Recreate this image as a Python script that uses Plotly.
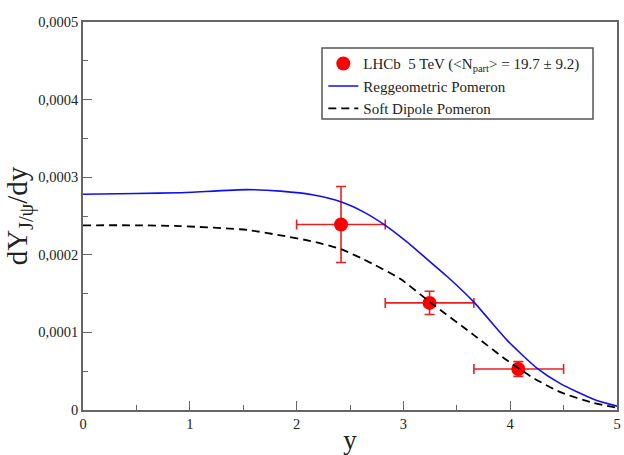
import plotly.graph_objects as go

# Data points (LHCb 5 TeV)
pt_x = [2.416, 3.245, 4.076]
pt_y = [0.000239, 0.000138, 0.0000528]
pt_yerr = [0.000049, 0.000015, 0.0000095]
pt_xlo = [2.0, 2.83, 3.66]
pt_xhi = [2.83, 3.66, 4.5]

# Reggeometric Pomeron curve
rg_x = [0, 0.5, 0.91, 1.54, 1.85, 2.16, 2.42, 2.63, 2.83, 3.03, 3.25, 3.41, 3.66, 3.97, 4.25, 4.47, 4.78, 5.0]
rg_y = [2.78e-4, 2.79e-4, 2.80e-4, 2.84e-4, 2.82e-4, 2.77e-4, 2.68e-4, 2.55e-4, 2.38e-4, 2.17e-4,
        1.91e-4, 1.72e-4, 1.39e-4, 0.90e-4, 0.54e-4, 0.34e-4, 0.14e-4, 0.05e-4]

# Soft Dipole Pomeron curve
sd_x = [0, 0.5, 0.91, 1.54, 1.85, 2.16, 2.42, 2.63, 2.97, 3.25, 3.66, 3.97, 4.22, 4.47, 4.78, 5.0]
sd_y = [2.38e-4, 2.38e-4, 2.37e-4, 2.32e-4, 2.25e-4, 2.17e-4, 2.07e-4, 1.94e-4, 1.69e-4, 1.39e-4,
        0.965e-4, 0.64e-4, 0.41e-4, 0.23e-4, 0.09e-4, 0.03e-4]

y_ticks = [0, 0.0001, 0.0002, 0.0003, 0.0004, 0.0005]
y_labels = ["0", "0,0001", "0,0002", "0,0003", "0,0004", "0,0005"]
x_ticks = [0, 1, 2, 3, 4, 5]
x_labels = ["0", "1", "2", "3", "4", "5"]

FONT = "Liberation Serif, Times New Roman, serif"

fig = go.Figure()
fig.add_trace(go.Scatter(
    x=pt_x, y=pt_y, mode="markers",
    name="LHCb  5 TeV (&lt;N<sub>part</sub>&gt; = 19.7 ± 9.2)",
    marker=dict(color="#ff0000", size=14),
    error_y=dict(type="data", array=pt_yerr, color="#e82020", thickness=1.6, width=5),
    error_x=dict(type="data", symmetric=False,
                 array=[h - c for h, c in zip(pt_xhi, pt_x)],
                 arrayminus=[c - l for l, c in zip(pt_xlo, pt_x)],
                 color="#e82020", thickness=1.6, width=5),
))
fig.add_trace(go.Scatter(
    x=rg_x, y=rg_y, mode="lines", name="Reggeometric Pomeron",
    line=dict(color="#1010ee", width=1.6, shape="spline", smoothing=0.6),
))
fig.add_trace(go.Scatter(
    x=sd_x, y=sd_y, mode="lines", name="Soft Dipole Pomeron",
    line=dict(color="#000000", width=1.8, dash="8px,5px", shape="spline", smoothing=0.6),
))

# legend frame (paper coords)
fig.add_shape(type="rect", xref="paper", yref="paper",
              x0=(322 - 83) / 534, x1=(593 - 83) / 534,
              y0=(410 - 119) / 388, y1=(410 - 48) / 388,
              line=dict(color="#555", width=1.5), layer="above")

fig.update_layout(
    width=624, height=455,
    margin=dict(l=83, r=7, t=22, b=45),
    paper_bgcolor="white", plot_bgcolor="white",
    font=dict(family=FONT, size=14.5, color="#222"),
    showlegend=True,
    legend=dict(x=0.45, y=0.935, xanchor="left", yanchor="top",
                borderwidth=0, bgcolor="rgba(255,255,255,0)",
                font=dict(family=FONT, size=15, color="#222"),
                tracegroupgap=0, itemwidth=30),
    xaxis=dict(range=[0, 5], tickvals=x_ticks, ticktext=x_labels, automargin=False,
               ticks="inside", ticklen=9, tickcolor="#666", tickwidth=1.2,
               minor=dict(ticks="inside", ticklen=5, dtick=0.5, tickcolor="#666", tickwidth=1.2),
               showline=True, linecolor="#666", linewidth=1.8, mirror=True,
               showgrid=False, zeroline=False,
               title=dict(text="y", font=dict(family=FONT, size=27, color="#222"), standoff=0),
               tickfont=dict(family=FONT, size=14.5)),
    yaxis=dict(range=[0, 0.0005], tickvals=y_ticks, ticktext=y_labels, automargin=False,
               ticks="inside", ticklen=9, tickcolor="#666", tickwidth=1.2,
               minor=dict(ticks="inside", ticklen=5, dtick=0.00005, tickcolor="#666", tickwidth=1.2),
               showline=True, linecolor="#666", linewidth=1.8, mirror=True,
               showgrid=False, zeroline=False,
               title=dict(text="dY<sub>J/ψ</sub>/dy", font=dict(family=FONT, size=29, color="#222"), standoff=2),
               tickfont=dict(family=FONT, size=14.5)),
)

fig.write_html("out.html")
